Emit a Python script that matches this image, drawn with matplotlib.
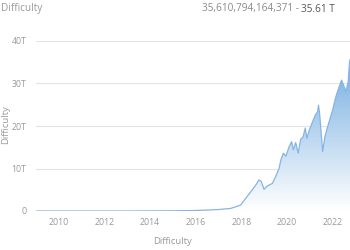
import numpy as np
import matplotlib
matplotlib.use("Agg")
import matplotlib.pyplot as plt
from matplotlib.patches import Polygon

plt.rcParams['font.family'] = ['Open Sans', 'DejaVu Sans']

# difficulty over time (decimal year, value in T)
years = [2009.0, 2010.0, 2011.0, 2012.0, 2013.0, 2014.0, 2015.0, 2016.0, 2016.5,
         2017.0, 2017.53, 2017.97, 2018.19, 2018.41, 2018.63, 2018.77, 2018.87,
         2018.99, 2019.14, 2019.36, 2019.5, 2019.65, 2019.73, 2019.84, 2019.95,
         2020.09, 2020.2, 2020.28, 2020.38, 2020.49, 2020.6, 2020.7, 2020.8,
         2020.87, 2020.97, 2021.12, 2021.24, 2021.34, 2021.38, 2021.43, 2021.56,
         2021.66, 2021.8, 2022.0, 2022.14, 2022.29, 2022.39, 2022.48, 2022.58,
         2022.68, 2022.74, 2022.76]
difficulty = [0.0, 0.0, 0.0, 0.0, 0.0, 0.02, 0.05, 0.12, 0.22,
              0.35, 0.6, 1.4, 3.0, 4.5, 6.1, 7.3, 7.0,
              5.1, 5.9, 6.5, 8.1, 10.0, 12.0, 13.6, 12.9,
              15.1, 16.3, 14.4, 16.1, 13.6, 16.9, 17.4, 19.5,
              17.1, 18.9, 21.0, 22.6, 23.3, 24.9, 22.9, 14.0,
              17.5, 20.2, 23.8, 26.9, 29.3, 30.8, 29.6, 28.1,
              30.4, 35.1, 35.6]
year_ticks = [2010, 2012, 2014, 2016, 2018, 2020, 2022]
y_ticks = [0, 10, 20, 30, 40]
y_labels = ['0', '10T', '20T', '30T', '40T']

grey = '#9a9a9a'
line_color = '#86b5e3'

fig = plt.figure(figsize=(3.5, 2.5), dpi=100)
ax = fig.add_axes([36 / 350, 39 / 250, 1 - 36 / 350, 170 / 250])

x = np.array(years)
y = np.array(difficulty)

# gradient fill under the curve
xmin, xmax = 2009.0, 2022.76
ax.set_xlim(xmin, xmax)
ax.set_ylim(0, 40)
grad = np.linspace(0, 1, 256).reshape(-1, 1)
cmap = matplotlib.colors.LinearSegmentedColormap.from_list('g', ['#ffffff', '#5d9fdc'])
im = ax.imshow(grad, extent=[xmin, xmax, 0, 40], origin='lower', aspect='auto',
               cmap=cmap, vmin=0, vmax=1.05, zorder=1)
poly = Polygon(np.column_stack([np.r_[x[0], x, x[-1]], np.r_[0, y, 0]]),
               closed=True, facecolor='none', edgecolor='none')
ax.add_patch(poly)
im.set_clip_path(poly)
ax.plot(x, y, color=line_color, lw=0.9, zorder=3)

ax.set_yticks(y_ticks)
ax.set_yticklabels(y_labels)
ax.set_xticks(year_ticks)
ax.set_xticklabels([str(t) for t in year_ticks])
ax.tick_params(axis='both', length=0, labelsize=6.3, colors=grey)
ax.tick_params(axis='y', pad=7)
ax.tick_params(axis='x', pad=5)
ax.grid(axis='y', color='#e4e4e4', lw=0.8, zorder=0)
ax.set_axisbelow(True)
for s in ax.spines.values():
    s.set_visible(False)

fig.text(1 / 350, 0.5, 'Difficulty', rotation=90, ha='left', va='center',
         fontsize=6.8, color=grey)
fig.text(173 / 350, 1 - 242 / 250, 'Difficulty', ha='center', va='center',
         fontsize=6.8, color=grey)
fig.text(1 / 350, 1 - 9 / 250, 'Difficulty', ha='left', va='center',
         fontsize=7.2, color=grey)

val = fig.text(335 / 350, 1 - 9 / 250, '35.61 T', ha='right', va='center',
               fontsize=7.2, color='#555555')
fig.canvas.draw()
bb = val.get_window_extent()
fig.text(bb.x0 / fig.bbox.width, 1 - 9 / 250, '35,610,794,164,371 - ', ha='right',
         va='center', fontsize=7.2, color='#8a8a8a')

fig.savefig('out.png', dpi=100)
